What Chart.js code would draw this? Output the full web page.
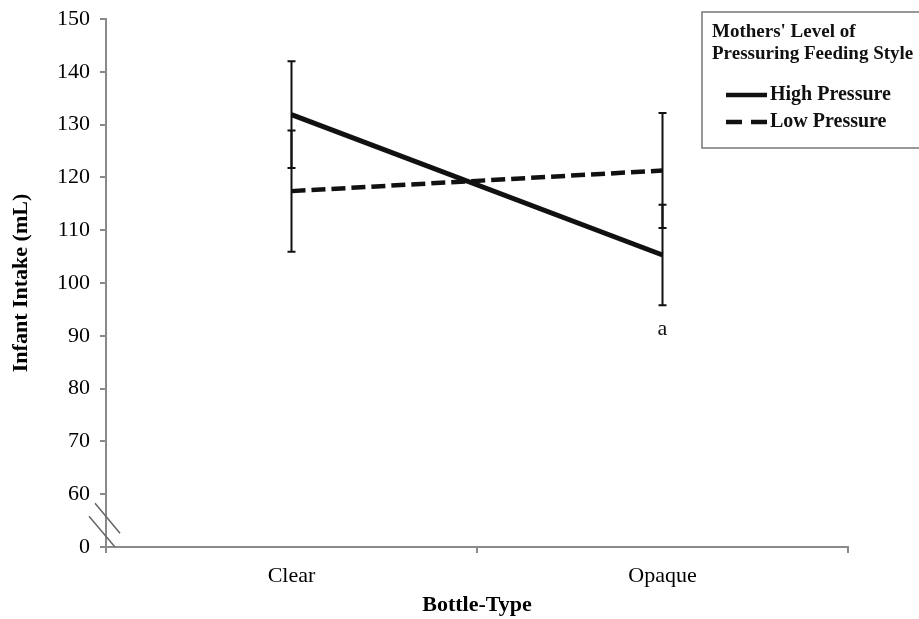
<!DOCTYPE html>
<html>
<head>
<meta charset="utf-8">
<script src="https://cdn.jsdelivr.net/npm/chart.js@4"></script>
<style>
    body { margin: 0; background: #fff; }
    #wrap { width: 919px; height: 619px; }
</style>
</head>
<body>
<div id="wrap"><canvas id="chart" width="919" height="619"></canvas></div>
<script>
// data
const categories = ['Clear', 'Opaque'];
const highPressure = [131.9, 105.3];
const lowPressure = [117.4, 121.3];
const highErr = [10.1, 9.5];
const lowErr = [11.5, 10.9];
const errors = [highErr, lowErr];
const seriesLabels = ['High Pressure', 'Low Pressure'];
const legendTitle = ["Mothers' Level of", 'Pressuring Feeding Style'];
const noteText = 'a';
const noteIndex = 1;

const serif = '"Liberation Serif", "Times New Roman", serif';
const axisGray = '#8a8a8a';

// error bars
const errorBars = {
    id: 'errorBars',
    afterDatasetsDraw(chart) {
        const ctx = chart.ctx;
        const y = chart.scales.y;
        ctx.save();
        ctx.strokeStyle = '#111';
        ctx.lineWidth = 2;
        chart.data.datasets.forEach((ds, di) => {
            const meta = chart.getDatasetMeta(di);
            meta.data.forEach((pt, i) => {
                const top = y.getPixelForValue(ds.data[i] + errors[di][i]);
                const bot = y.getPixelForValue(ds.data[i] - errors[di][i]);
                ctx.beginPath();
                ctx.moveTo(pt.x, top); ctx.lineTo(pt.x, bot);
                ctx.moveTo(pt.x - 4, top); ctx.lineTo(pt.x + 4, top);
                ctx.moveTo(pt.x - 4, bot); ctx.lineTo(pt.x + 4, bot);
                ctx.stroke();
            });
        });
        // significance note under the opaque bar
        const pt = chart.getDatasetMeta(0).data[noteIndex];
        const lowest = Math.min(highPressure[noteIndex] - highErr[noteIndex], lowPressure[noteIndex] - lowErr[noteIndex]);
        ctx.fillStyle = '#111';
        ctx.font = '22px ' + serif;
        ctx.textAlign = 'center';
        ctx.textBaseline = 'middle';
        ctx.fillText(noteText, pt.x, y.getPixelForValue(lowest) + 24);
        ctx.restore();
    }
};

// axis break between 0 and 60
const axisBreak = {
    id: 'axisBreak',
    afterDraw(chart) {
        const ctx = chart.ctx;
        const y = chart.scales.y;
        const ax = chart.chartArea.left;
        const y60 = y.getPixelForValue(60);
        const y0 = y.getPixelForValue(50);
        ctx.save();
        ctx.strokeStyle = '#666';
        ctx.lineWidth = 1.5;
        ctx.beginPath();
        ctx.moveTo(ax - 11, y60 + 9); ctx.lineTo(ax + 14, y60 + 39);
        ctx.moveTo(ax - 17, y60 + 22); ctx.lineTo(ax + 9, y0);
        ctx.stroke();
        ctx.restore();
    }
};

// boxed legend with two-line title
const boxLegend = {
    id: 'boxLegend',
    afterDraw(chart) {
        const ctx = chart.ctx;
        ctx.save();
        ctx.strokeStyle = '#777';
        ctx.lineWidth = 1.5;
        ctx.strokeRect(702, 12, 240, 136);
        ctx.fillStyle = '#111';
        ctx.textBaseline = 'middle';
        ctx.textAlign = 'left';
        ctx.font = 'bold 19px ' + serif;
        ctx.fillText(legendTitle[0], 712, 32);
        ctx.fillText(legendTitle[1], 712, 54);
        ctx.font = 'bold 20px ' + serif;
        chart.data.datasets.forEach((ds, i) => {
            const yy = 95 + i * 27;
            ctx.strokeStyle = '#111';
            ctx.lineWidth = 4.5;
            ctx.setLineDash(ds.borderDash ? [16, 9] : []);
            ctx.beginPath();
            ctx.moveTo(726, yy); ctx.lineTo(767, yy);
            ctx.stroke();
            ctx.setLineDash([]);
            ctx.fillText(ds.label, 770, yy);
        });
        ctx.restore();
    }
};

new Chart(document.getElementById('chart'), {
    type: 'line',
    data: {
        labels: categories,
        datasets: [
            {
                label: seriesLabels[0],
                data: highPressure,
                borderColor: '#111',
                borderWidth: 5,
                pointRadius: 0,
                fill: false
            },
            {
                label: seriesLabels[1],
                data: lowPressure,
                borderColor: '#111',
                borderWidth: 4.5,
                borderDash: [14, 6],
                pointRadius: 0,
                fill: false
            }
        ]
    },
    options: {
        responsive: false,
        animation: false,
        layout: { padding: { top: 19, right: 71, left: 0, bottom: 0 } },
        plugins: {
            legend: { display: false },
            tooltip: { enabled: false }
        },
        scales: {
            x: {
                offset: true,
                grid: { offset: true, drawOnChartArea: false, tickLength: 6, color: axisGray, lineWidth: 2 },
                border: { color: axisGray, width: 2 },
                ticks: { color: '#000', padding: 10, font: { family: serif, size: 22 } },
                title: {
                    display: true,
                    text: 'Bottle-Type',
                    color: '#000',
                    padding: { top: 0, bottom: 0 },
                    font: { family: serif, size: 22, weight: 'bold' }
                },
                afterFit(scale) { scale.height = 72; }
            },
            y: {
                min: 50,
                max: 150,
                grid: { drawOnChartArea: false, tickLength: 6, color: axisGray, lineWidth: 2 },
                border: { color: axisGray, width: 2 },
                ticks: {
                    stepSize: 10,
                    color: '#000',
                    padding: 10,
                    font: { family: serif, size: 22 },
                    callback: v => (v === 50 ? '0' : v)
                },
                title: {
                    display: true,
                    text: 'Infant Intake (mL)',
                    color: '#000',
                    padding: { top: 8, bottom: 0 },
                    font: { family: serif, size: 22, weight: 'bold' }
                },
                afterFit(scale) {
                    scale.width = 106;
                    scale.paddingTop = 0;
                    scale.paddingBottom = 0;
                }
            }
        }
    },
    plugins: [errorBars, axisBreak, boxLegend]
});
</script>
</body>
</html>
